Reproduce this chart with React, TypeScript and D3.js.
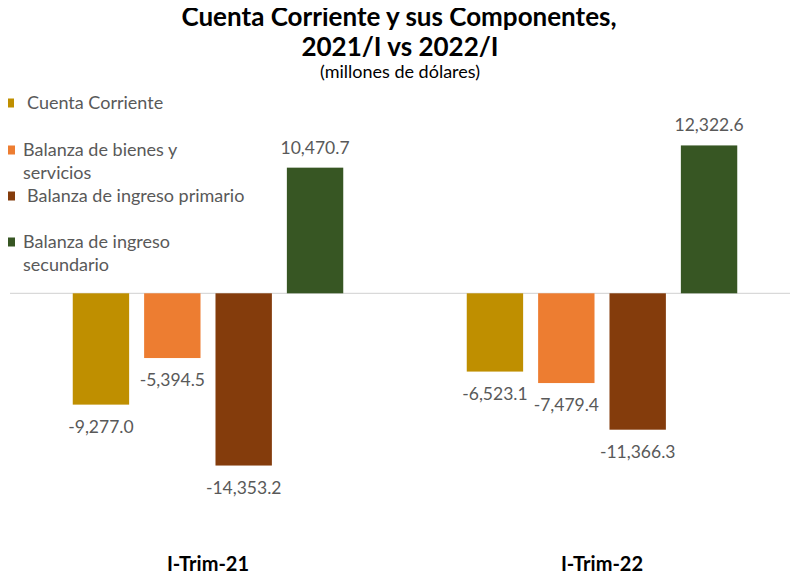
import React from "react";
import * as d3 from "d3";

// Quarters and balance components (millions of USD)
const categories = ["I-Trim-21", "I-Trim-22"];
const seriesNames = [
  "Cuenta Corriente",
  "Balanza de bienes y servicios",
  "Balanza de ingreso primario",
  "Balanza de ingreso secundario",
];
const cuentaCorriente = [-9277.0, -6523.1];
const bienesServicios = [-5394.5, -7479.4];
const ingresoPrimario = [-14353.2, -11366.3];
const ingresoSecundario = [10470.7, 12322.6];

const seriesValues = [cuentaCorriente, bienesServicios, ingresoPrimario, ingresoSecundario];
const colors = ["#BF8F00", "#ED7D31", "#843C0C", "#375623"];

// Legend text broken into lines
const legendLines = [
  ["Cuenta Corriente"],
  ["Balanza de bienes y", "servicios"],
  ["Balanza de ingreso primario"],
  ["Balanza de ingreso", "secundario"],
];

const W = 798;
const H = 579;
const FONT = "Lato, 'Open Sans', sans-serif";
// thousands separator, one decimal, plain hyphen for negatives
const d3fmt = d3.format(",.1f");
const fmt = (v: number) => d3fmt(v).replace("\u2212", "-");

export default function App() {
  const x0 = d3.scaleBand<string>().domain(categories).range([11, 799]).padding(0);
  const groupW = 270.5;
  const x1 = d3
    .scaleBand<string>()
    .domain(seriesNames)
    .range([-groupW / 2, groupW / 2])
    .paddingInner(0.21)
    .paddingOuter(0);
  const y = d3.scaleLinear().domain([-15000, 13000]).range([473.3, 137.3]);

  const legendY = [103, 150, 196, 242];
  const legendTextX = [27, 23, 27, 23];
  const legendBoxX = [6, 7, 7, 7];

  return (
    <div style={{ margin: -8 }}>
      <svg width={W} height={H} style={{ display: "block", background: "#fff" }} fontFamily={FONT}>
        {/* title */}
        <text x={399} y={26} textAnchor="middle" fontSize={26} fontWeight={700} fill="#000">
          Cuenta Corriente y sus Componentes,
        </text>
        <text x={400} y={56} textAnchor="middle" fontSize={26} fontWeight={700} fill="#000">
          2021/I vs 2022/I
        </text>
        <text x={400} y={78} textAnchor="middle" fontSize={18} fill="#000">
          (millones de dólares)
        </text>

        {/* legend */}
        {legendLines.map((lines, i) => (
          <g key={i}>
            <rect x={legendBoxX[i]} y={legendY[i] - 4.5} width={8} height={9} fill={colors[i]} />
            {lines.map((ln, j) => (
              <text
                key={j}
                x={legendTextX[i]}
                y={legendY[i] + j * 23}
                dy="0.35em"
                fontSize={18}
                fill="#595959"
              >
                {ln}
              </text>
            ))}
          </g>
        ))}

        {/* zero line */}
        <line x1={10} x2={798} y1={y(0)} y2={y(0)} stroke="#d9d9d9" strokeWidth={1.2} />

        {/* bars and value labels */}
        {categories.map((c, ci) => {
          const cx = (x0(c) ?? 0) + x0.bandwidth() / 2;
          return (
            <g key={c}>
              {seriesNames.map((s, si) => {
                const v = seriesValues[si][ci];
                const bx = cx + (x1(s) ?? 0);
                const top = Math.min(y(v), y(0));
                const h = Math.abs(y(v) - y(0));
                const lx = bx + x1.bandwidth() / 2;
                const ly = v >= 0 ? y(v) - 14 : y(v) + 28;
                return (
                  <g key={s}>
                    <rect x={bx} y={top} width={x1.bandwidth()} height={h} fill={colors[si]} />
                    <text x={lx} y={ly} textAnchor="middle" fontSize={17.5} fill="#595959">
                      {fmt(v)}
                    </text>
                  </g>
                );
              })}
              <text x={cx} y={571} textAnchor="middle" fontSize={20} fontWeight={700} fill="#000">
                {c}
              </text>
            </g>
          );
        })}
      </svg>
    </div>
  );
}
